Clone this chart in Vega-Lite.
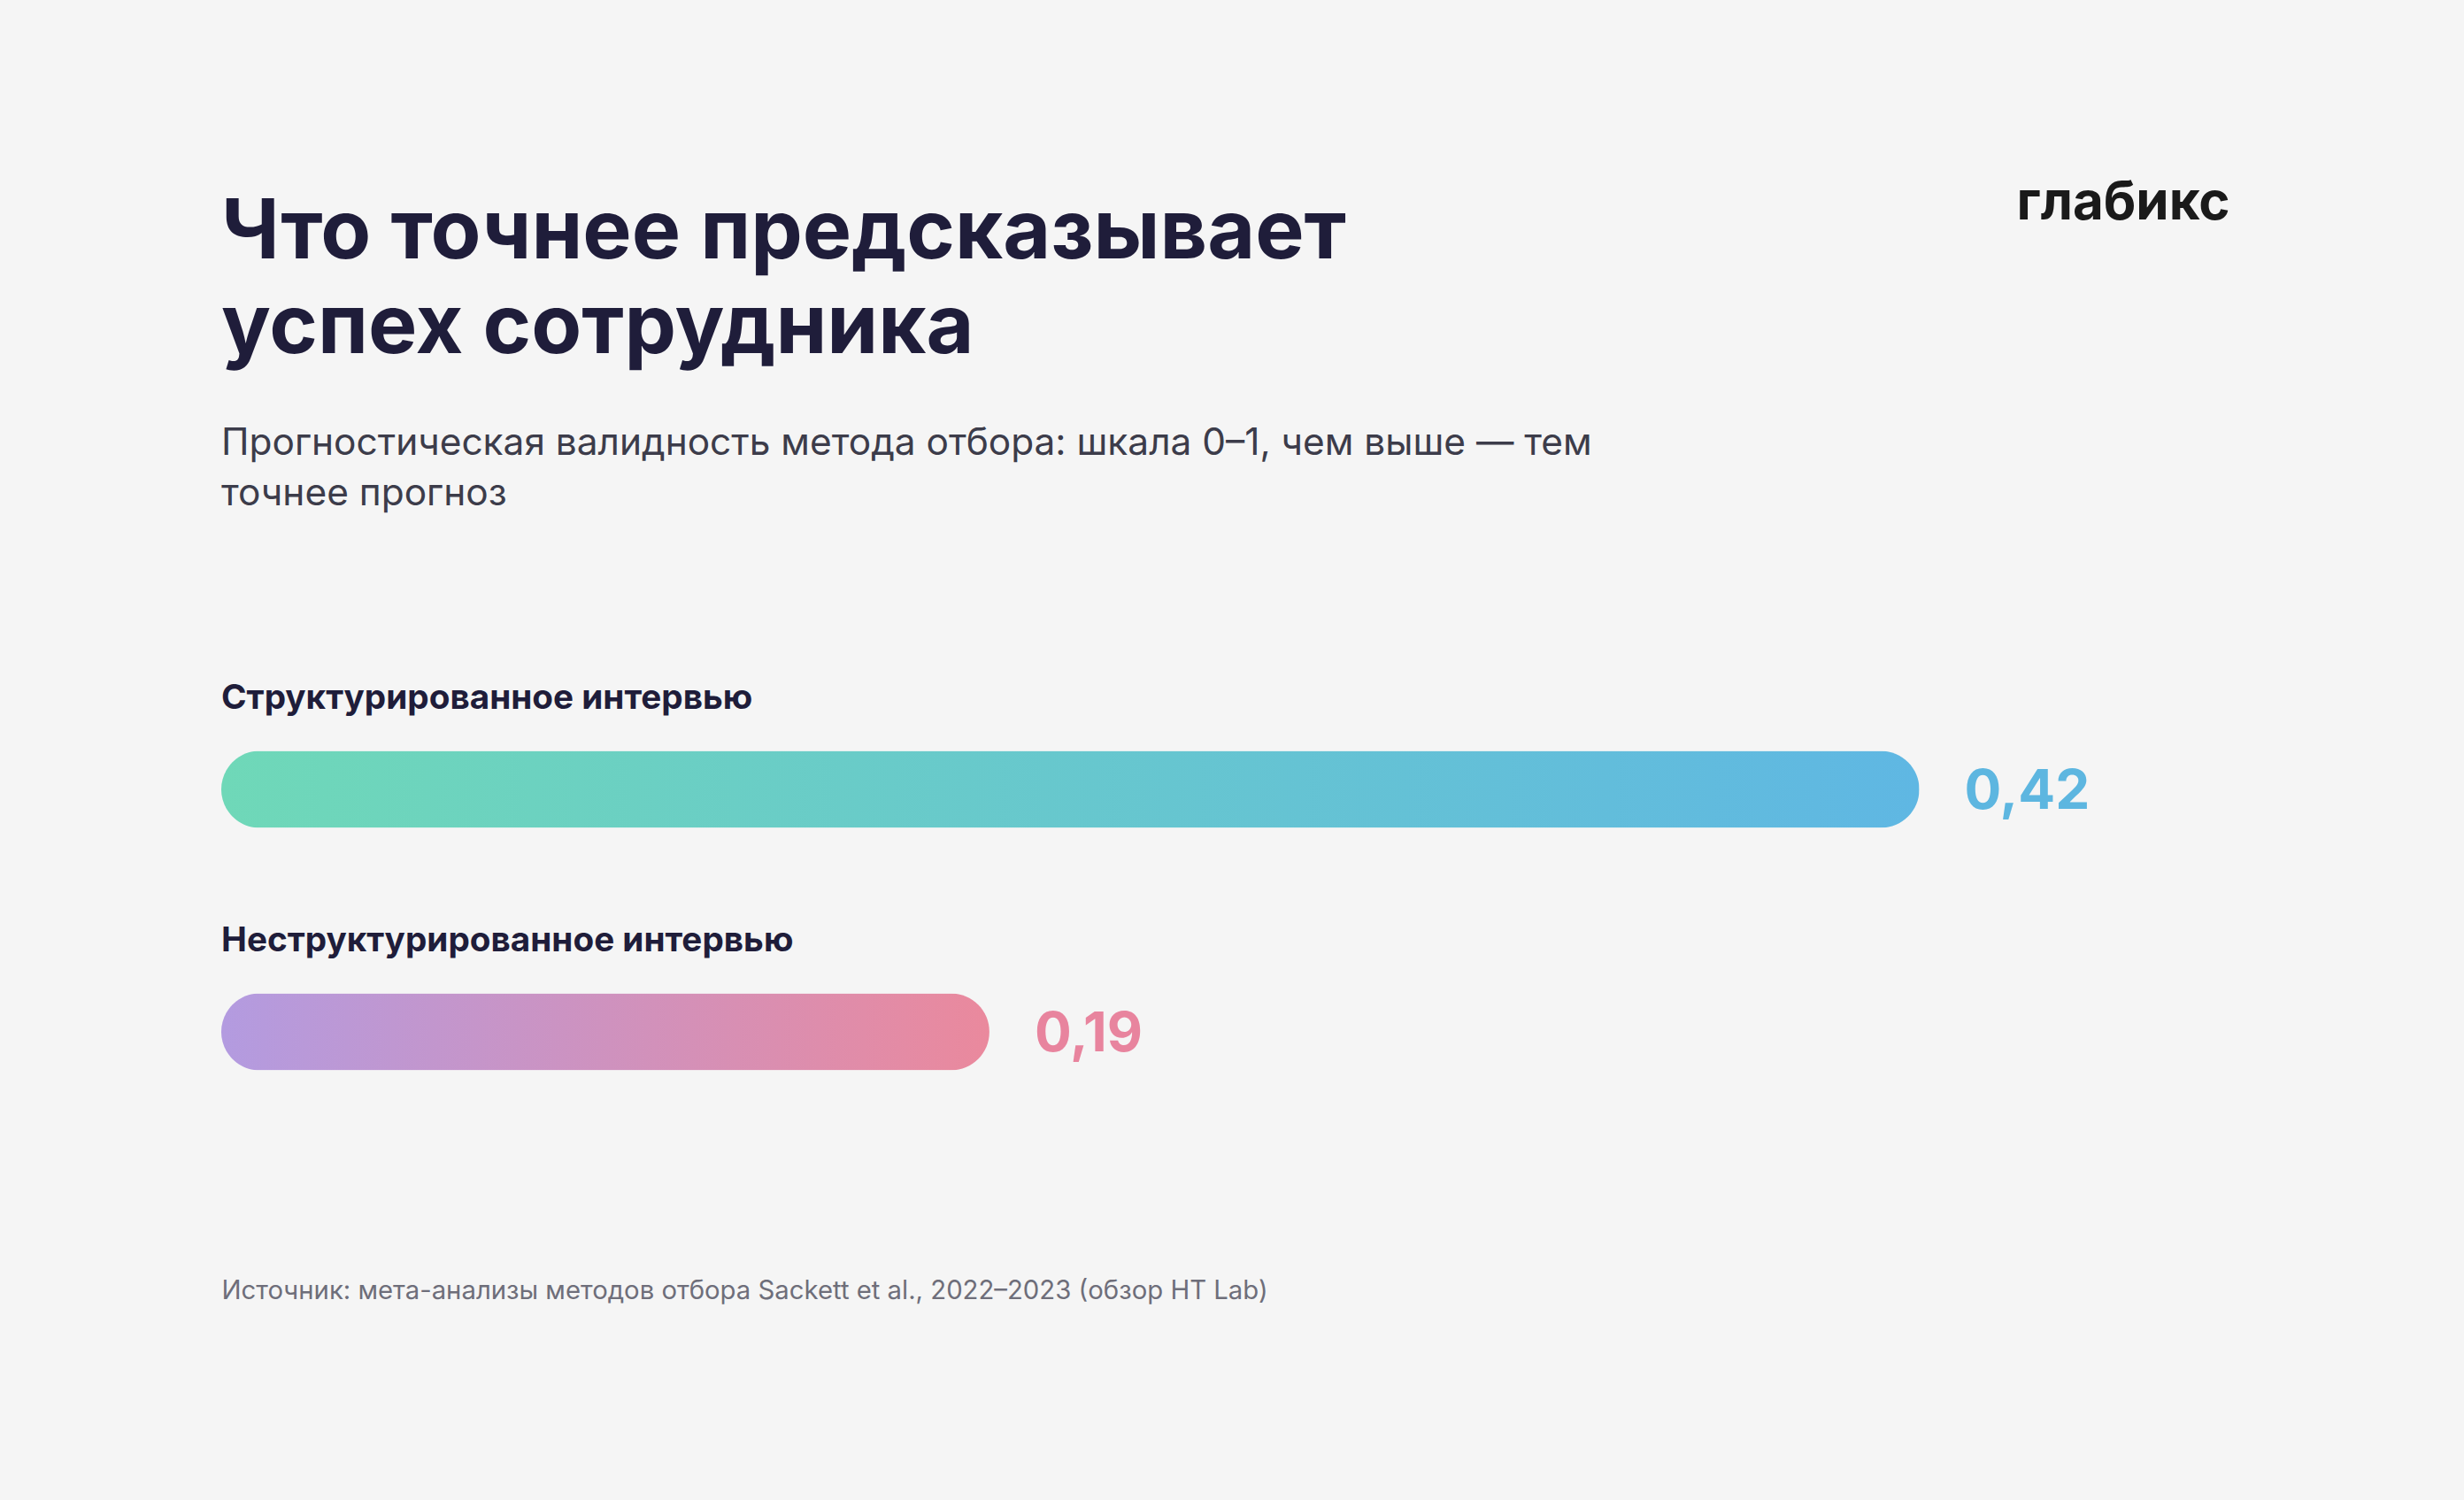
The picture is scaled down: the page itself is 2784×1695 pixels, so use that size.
{
  "$schema": "https://vega.github.io/schema/vega-lite/v6.json",
  "width": 2284,
  "height": 548,
  "autosize": {"type": "none"},
  "padding": {"left": 250, "right": 250, "top": 755, "bottom": 392},
  "background": "#f5f5f5",
  "config": {
    "view": {"stroke": null},
    "locale": {"number": {"decimal": ",", "thousands": "\u00a0", "grouping": [3], "currency": ["", " ₽"]}}
  },
  "title": {
    "text": ["Что точнее предсказывает", "успех сотрудника"],
    "subtitle": ["Прогностическая валидность метода отбора: шкала 0–1, чем выше — тем", "точнее прогноз"],
    "anchor": "start",
    "frame": "group",
    "orient": "top",
    "offset": -381,
    "font": "Inter",
    "fontSize": 93,
    "fontWeight": 700,
    "color": "#1f1d3a",
    "lineHeight": 107,
    "subtitleFont": "Inter",
    "subtitleFontSize": 42.4,
    "subtitleFontWeight": 400,
    "subtitleColor": "#3c3c4a",
    "subtitleLineHeight": 57,
    "subtitlePadding": 62
  },
  "data": {
    "values": [
      {"method": "Структурированное интервью", "validity": 0.42, "group": "structured"},
      {"method": "Неструктурированное интервью", "validity": 0.19, "group": "unstructured"}
    ]
  },
  "encoding": {
    "y": {
      "field": "method",
      "type": "nominal",
      "sort": null,
      "scale": {"paddingInner": 0, "paddingOuter": 0},
      "axis": {
        "orient": "right",
        "domain": false,
        "ticks": false,
        "labels": false,
        "grid": false,
        "title": "глабикс",
        "titleAngle": 0,
        "titleX": -256,
        "titleY": -508,
        "titleAlign": "left",
        "titleBaseline": "alphabetic",
        "titleFont": "Inter",
        "titleFontSize": 60,
        "titleFontWeight": 700,
        "titleColor": "#1a1a1a"
      }
    },
    "x": {
      "field": "validity",
      "type": "quantitative",
      "scale": {"domain": [0, 0.5]},
      "axis": {
        "orient": "bottom",
        "domain": false,
        "ticks": false,
        "labels": false,
        "grid": false,
        "title": "Источник: мета-анализы методов отбора Sackett et al., 2022–2023 (обзор HT Lab)",
        "titleX": 0,
        "titleY": 164,
        "titleAlign": "left",
        "titleBaseline": "alphabetic",
        "titleFont": "Inter",
        "titleFontSize": 29.3,
        "titleFontWeight": 400,
        "titleColor": "#6e6e7a"
      }
    }
  },
  "layer": [
    {
      "transform": [{"filter": "datum.group === 'structured'"}],
      "mark": {
        "type": "bar",
        "height": 87,
        "cornerRadius": 43.5,
        "fill": {
          "gradient": "linear",
          "x1": 0, "y1": 0, "x2": 1, "y2": 0,
          "stops": [{"offset": 0, "color": "#6fd8b8"}, {"offset": 1, "color": "#5fb7e3"}]
        }
      }
    },
    {
      "transform": [{"filter": "datum.group === 'unstructured'"}],
      "mark": {
        "type": "bar",
        "height": 87,
        "cornerRadius": 43.5,
        "fill": {
          "gradient": "linear",
          "x1": 0, "y1": 0, "x2": 1, "y2": 0,
          "stops": [{"offset": 0, "color": "#b39be0"}, {"offset": 1, "color": "#ea899d"}]
        }
      }
    },
    {
      "mark": {
        "type": "text",
        "align": "left",
        "baseline": "alphabetic",
        "dy": -91,
        "font": "Inter",
        "fontSize": 38.7,
        "fontWeight": 700,
        "color": "#1f1d3a"
      },
      "encoding": {
        "x": {"datum": 0, "type": "quantitative"},
        "text": {"field": "method", "type": "nominal"}
      }
    },
    {
      "mark": {
        "type": "text",
        "align": "left",
        "baseline": "middle",
        "dx": 51,
        "dy": 3,
        "font": "Inter",
        "fontSize": 62,
        "fontWeight": 700
      },
      "encoding": {
        "text": {"field": "validity", "type": "quantitative", "format": ".2f"},
        "color": {
          "field": "group",
          "type": "nominal",
          "scale": {"domain": ["structured", "unstructured"], "range": ["#5db6e0", "#e8849e"]},
          "legend": null
        }
      }
    }
  ]
}
